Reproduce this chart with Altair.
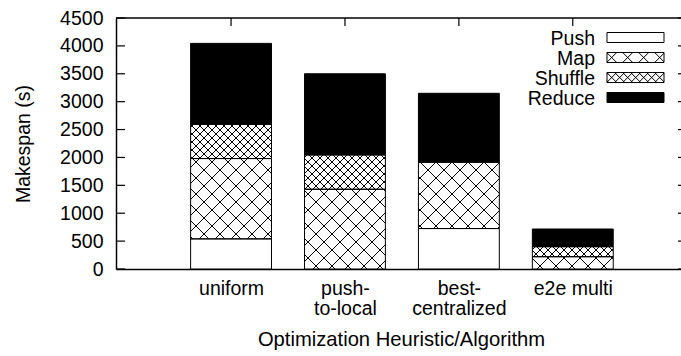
import math
import json
import altair as alt
import pandas as pd

# ---------------- data ----------------
categories = ["uniform", "push-\nto-local", "best-\ncentralized", "e2e multi"]
phases = ["Push", "Map", "Shuffle", "Reduce"]
push = [540, 0, 725, 0]
map_ = [1440, 1430, 1190, 220]
shuffle = [615, 615, 0, 180]
reduce_ = [1450, 1455, 1235, 317]
y_tick_values = [0, 500, 1000, 1500, 2000, 2500, 3000, 3500, 4000, 4500]

# ---------------- style / layout ----------------
phase_fill = ["#ffffff", "#ffffff", "#ffffff", "#000000"]
phase_hatch = [0, 16, 8, 0]          # cross-hatch spacing in px (0 = none)
W, H = 565, 251
X_DOMAIN = [-1.01, 3.95]
Y_DOMAIN = [0, 4500]
BAR_HALF = 0.355
FONT = "Liberation Sans"
FS = 19.5

span = X_DOMAIN[1] - X_DOMAIN[0]
yspan = Y_DOMAIN[1] - Y_DOMAIN[0]


def x_to_px(x):
    return (x - X_DOMAIN[0]) / span * W


def px_to_x(px):
    return px / W * span + X_DOMAIN[0]


def y_to_px(y):
    return H - (y - Y_DOMAIN[0]) / yspan * H


def px_to_y(py):
    return (H - py) / H * yspan + Y_DOMAIN[0]


def hatch(px0, px1, py0, py1, s, ox=0.0, oy=0.0):
    """diagonal cross-hatch segments clipped to rectangle (pixel space, y down)"""
    segs = []
    kmin = math.floor(((px0 - ox) + (py0 - oy)) / s) - 1
    kmax = math.ceil(((px1 - ox) + (py1 - oy)) / s) + 1
    for k in range(kmin, kmax + 1):
        c = k * s + ox + oy
        a = max(px0, c - py1)
        b = min(px1, c - py0)
        if b - a > 0.3:
            segs.append((a, c - a, b, c - b))
    kmin = math.floor(((px0 - ox) - (py1 - oy)) / s) - 1
    kmax = math.ceil(((px1 - ox) - (py0 - oy)) / s) + 1
    for k in range(kmin, kmax + 1):
        c = k * s + ox - oy
        a = max(px0, c + py0)
        b = min(px1, c + py1)
        if b - a > 0.3:
            segs.append((a, a - c, b, b - c))
    return segs


series = {"Push": push, "Map": map_, "Shuffle": shuffle, "Reduce": reduce_}
bar_rows, hatch_rows = [], []
for i, cat in enumerate(categories):
    base = 0
    for j, ph in enumerate(phases):
        v = series[ph][i]
        if v <= 0:
            continue
        r = dict(cat=i, phase=ph, x0=i - BAR_HALF, x1=i + BAR_HALF, y0=base, y1=base + v)
        bar_rows.append(r)
        s = phase_hatch[j]
        if s:
            for (a, b, c, d) in hatch(x_to_px(r["x0"]), x_to_px(r["x1"]),
                                      y_to_px(r["y1"]), y_to_px(r["y0"]), s):
                hatch_rows.append(dict(hx0=px_to_x(a), hy0=px_to_y(b),
                                       hx1=px_to_x(c), hy1=px_to_y(d)))
        base += v

# legend (manual, gnuplot style)
LEG_X0, LEG_X1, LEG_TOP, LEG_H, LEG_STEP, LEG_TX, LEG_TB = 491, 548, 14.5, 10, 20, 479, 26.5
leg_rows, leg_text = [], []
for j, ph in enumerate(phases):
    t = LEG_TOP + LEG_STEP * j
    leg_rows.append(dict(phase=ph, x0=px_to_x(LEG_X0), x1=px_to_x(LEG_X1),
                         y0=px_to_y(t), y1=px_to_y(t + LEG_H)))
    leg_text.append(dict(phase=ph, x=px_to_x(LEG_TX), y=px_to_y(LEG_TB + LEG_STEP * j)))
    s = phase_hatch[j]
    if s:
        for (a, b, c, d) in hatch(LEG_X0, LEG_X1, t, t + LEG_H, s,
                                  ox=LEG_X0 + 4.7, oy=t + LEG_H / 2):
            hatch_rows.append(dict(hx0=px_to_x(a), hy0=px_to_y(b),
                                   hx1=px_to_x(c), hy1=px_to_y(d)))

bars_df = pd.DataFrame(bar_rows + leg_rows)
hatch_df = pd.DataFrame(hatch_rows)
text_df = pd.DataFrame(leg_text)
cat_df = pd.DataFrame({"xc": list(range(len(categories)))})
ytick_df = pd.DataFrame({"v": y_tick_values})
one_df = pd.DataFrame({"a": [0]})

xscale = alt.Scale(domain=X_DOMAIN, nice=False, zero=False)
yscale = alt.Scale(domain=Y_DOMAIN, nice=False, zero=False)
color_scale = alt.Scale(domain=phases, range=phase_fill)

label_expr = json.dumps([c.split("\n") for c in categories]) + "[datum.value]"

x_axis = alt.Axis(values=list(range(len(categories))), labelExpr=label_expr,
                  title="Optimization Heuristic/Algorithm", ticks=False, grid=False,
                  labelPadding=10, labelLineHeight=20, labelFlush=False, labelOverlap=False,
                  titleX=285, titleY=76, titleBaseline="alphabetic", titleAlign="center",
                  titleFontSize=20.2, domainColor="black", domainWidth=1.5)
y_axis = alt.Axis(values=y_tick_values, format="d", title="Makespan (s)", ticks=False,
                  grid=False, labelPadding=13, labelOverlap=False, labelFlush=False,
                  titleX=-86.5, titleY=H / 2, titleBaseline="alphabetic", titleAlign="center",
                  titleAngle=270, domainColor="black", domainWidth=1.5)


def X(field):
    return alt.X(field, scale=xscale, axis=x_axis)


def Y(field):
    return alt.Y(field, scale=yscale, axis=y_axis)


fills = alt.Chart(bars_df).mark_rect(strokeWidth=0).encode(
    x=X("x0:Q"), x2="x1:Q", y=Y("y0:Q"), y2="y1:Q",
    color=alt.Color("phase:N", scale=color_scale, legend=None),
)

hatches = alt.Chart(hatch_df).mark_rule(color="black", strokeWidth=1).encode(
    x=X("hx0:Q"), x2="hx1:Q", y=Y("hy0:Q"), y2="hy1:Q",
)

outlines = alt.Chart(bars_df).mark_rect(fill=None, stroke="black", strokeWidth=1).encode(
    x=X("x0:Q"), x2="x1:Q", y=Y("y0:Q"), y2="y1:Q",
)

legend_text = alt.Chart(text_df).mark_text(
    align="right", baseline="alphabetic", font=FONT, fontSize=FS, color="black"
).encode(
    x=X("x:Q"), y=Y("y:Q"), text="phase:N",
)

top_border = alt.Chart(one_df).mark_rule(color="black", strokeWidth=1.5).encode(
    x=alt.value(0), x2=alt.value(W), y=alt.value(0)
)

top_ticks = alt.Chart(cat_df).mark_rule(color="black", strokeWidth=1.2).encode(
    x=X("xc:Q"), y=alt.value(0), y2=alt.value(8)
)

left_ticks = alt.Chart(ytick_df).mark_rule(color="black", strokeWidth=1.2).encode(
    y=Y("v:Q"), x=alt.value(0), x2=alt.value(9)
)

right_ticks = alt.Chart(ytick_df).mark_rule(color="black", strokeWidth=1.2).encode(
    y=Y("v:Q"), x=alt.value(W - 3), x2=alt.value(W)
)

chart = alt.layer(
    fills, hatches, outlines, legend_text, top_border, top_ticks, left_ticks, right_ticks
).properties(
    width=W, height=H, autosize="none",
    padding={"left": 116, "top": 18, "right": 0, "bottom": 356 - 18 - H},
    background="white",
).configure_view(stroke=None).configure_axis(
    labelFont=FONT, titleFont=FONT, labelFontSize=FS, titleFontSize=FS,
    labelColor="black", titleColor="black", titleFontWeight="normal",
)

chart.save("out.html", embed_options={"renderer": "svg", "actions": False})
